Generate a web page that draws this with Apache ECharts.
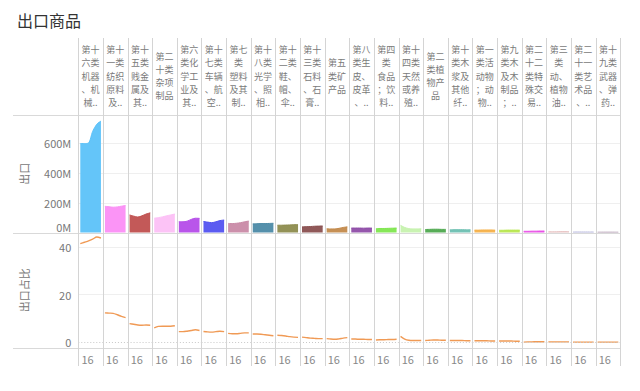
<!DOCTYPE html>
<html><head><meta charset="utf-8">
<script src="https://cdn.jsdelivr.net/npm/echarts@6/dist/echarts.min.js"></script>
<style>html,body{margin:0;padding:0;background:#fff}#c{width:640px;height:391px}</style>
</head><body><div id="c"></div>
<script>
const categories = [
  '第十\n六类\n机器\n、机\n械..', '第十\n一类\n纺织\n原料\n及..', '第十\n五类\n贱金\n属及\n其..', '第二\n十类\n杂项\n制品',
  '第六\n类化\n学工\n业及\n其..', '第十\n七类\n车辆\n、航\n空..', '第七\n类\n塑料\n及其\n制..', '第十\n八类\n光学\n、照\n相..',
  '第十\n二类\n鞋、\n帽、\n伞..', '第十\n三类\n石料\n、石\n膏..', '第五\n类矿\n产品', '第八\n类生\n皮、\n皮革\n、..',
  '第四\n类\n食品\n；饮\n料..', '第十\n四类\n天然\n或养\n殖..', '第二\n类植\n物产\n品', '第十\n类木\n浆及\n其他\n纤..',
  '第一\n类活\n动物\n；动\n物..', '第九\n类木\n及木\n制品\n；..', '第二\n十二\n类特\n殊交\n易..', '第三\n类\n动、\n植物\n油..',
  '第二\n十一\n类艺\n术品\n、..', '第十\n九类\n武器\n、弹\n药..'
];
const colors = ['#5cc2f9','#fb8ef5','#c0504f','#fcc0f6','#b54ce9','#5252f0','#c98aa6','#4c8aa6','#8d8c4e','#8a5050','#c38a4c','#8f4ea8',
  '#7fe64f','#c6f2ae','#4ea84e','#6ec0b2','#f5b14a','#b8e650','#e84ee6','#e8c4c4','#c6c6e4','#c8b8c8'];
const exportVals = [
  [598,598,602,680,728,749],[176,173,170,172,177,181],[118,110,104,112,124,132],[96,100,105,112,118,124],
  [73,72,76,88,96,95],[74,70,66,72,80,84],[61,60,62,66,72,77],[58,59,60,60,61,62],
  [49,49,50,51,52,53],[38,39,40,42,43,44],[25,24,24,28,34,38],[30,30,30,29,30,30],
  [26,27,27,28,29,30],[48,34,26,24,24,25],[20,21,22,22,21,21],[18,19,19,19,18,18],
  [16,16,17,17,17,16],[15,15,16,16,16,16],[8,8,9,9,10,10],[5,5,5,6,6,6],[4,4,4,4,4,4],[3,3,3,3,3,3]
];
const shareVals = [
  [41.4,42.0,42.6,43.3,44.2,43.8],[12.4,12.3,12.2,11.6,10.9,10.4],[7.9,7.6,7.3,7.2,7.3,7.2],[6.1,6.7,6.8,6.8,6.8,7.0],
  [4.5,4.5,4.7,5.0,5.3,5.0],[4.6,4.4,4.3,4.5,4.7,4.5],[3.8,3.6,3.6,3.8,4.0,4.0],[3.5,3.5,3.4,3.2,3.0,2.8],
  [3.0,2.9,2.7,2.4,2.2,2.1],[2.2,2.0,1.8,1.7,1.6,1.6],[1.6,1.4,1.3,1.5,1.8,2.0],[1.4,1.4,1.3,1.3,1.2,1.2],
  [1.0,1.1,1.1,1.2,1.2,1.3],[2.5,1.4,0.9,0.8,0.8,0.8],[0.8,0.9,1.0,1.0,0.9,0.9],[0.8,0.8,0.8,0.8,0.7,0.7],
  [0.7,0.7,0.7,0.7,0.6,0.6],[0.6,0.6,0.6,0.6,0.5,0.5],[0.1,0.2,0.2,0.3,0.3,0.3],[0.2,0.2,0.2,0.2,0.2,0.2],
  [0.1,0.1,0.1,0.1,0.1,0.1],[0.1,0.1,0.1,0.1,0.1,0.1]
];
const xTickLabels = ['16'];
const yTicksTop = [0,200,400,600];
const yTicksBottom = [0,20,40];
const yNameTop = '出口';
const yNameBottom = '出口占比';
const titleText = '出口商品';

const FONT = '"Noto Sans CJK SC","Noto Sans",sans-serif';
const X0 = 78.3, W = 24.636, N = categories.length;
const TOP1 = 115, BOT1 = 232.5, BOT2 = 348;
const grids = [], xAxes = [], yAxes = [], series = [];
for (let i = 0; i < N; i++) {
  const left = X0 + i * W;
  grids.push({left: left, width: W, top: TOP1, height: BOT1 - TOP1});
  xAxes.push({type: 'value', gridIndex: 2*i, min: -0.48, max: 5.48, position: 'top',
    axisLine: {show: false}, axisTick: {show: false}, axisLabel: {show: false}, splitLine: {show: false},
    name: categories[i], nameLocation: 'middle', nameGap: 39,
    nameTextStyle: {color: '#7a7a7a', fontSize: 9, lineHeight: 13.2, fontFamily: FONT, verticalAlign: 'middle', align: 'center'}});
  yAxes.push({type: 'value', gridIndex: 2*i, min: 0, max: 790,
    axisLine: {show: false}, axisTick: {show: false, customValues: yTicksTop.slice(1)},
    axisLabel: {show: i === 0, customValues: yTicksTop, formatter: v => v + 'M', color: '#777', fontSize: 11, margin: 7, fontFamily: FONT, verticalAlignMinLabel: 'bottom'},
    splitLine: {show: true, lineStyle: {color: '#efefef', width: 1}},
    name: i === 0 ? yNameTop : '', nameLocation: 'middle', nameGap: 49,
    nameTextStyle: {color: '#777', fontSize: 11, fontFamily: FONT}});
  series.push({type: 'line', xAxisIndex: 2*i, yAxisIndex: 2*i, symbol: 'none', smooth: 0.3,
    data: exportVals[i].map((v, k) => [k, v]), color: colors[i],
    lineStyle: {color: colors[i], width: 1}, areaStyle: {color: colors[i], opacity: 0.95}, silent: true});
  grids.push({left: left, width: W, top: BOT1, height: BOT2 - BOT1});
  xAxes.push({type: 'value', gridIndex: 2*i+1, min: -0.48, max: 5.48, position: 'bottom',
    axisLine: {show: false, onZero: false}, axisTick: {show: false}, splitLine: {show: false},
    axisLabel: {show: true, customValues: [1.75], formatter: () => xTickLabels[0], color: '#888', fontSize: 11, margin: 5, fontFamily: FONT}});
  yAxes.push({type: 'value', gridIndex: 2*i+1, min: -2.35, max: 46.1,
    axisLine: {show: false}, axisTick: {show: false, customValues: yTicksBottom.slice(1)},
    axisLabel: {show: i === 0, customValues: yTicksBottom, color: '#777', fontSize: 11, margin: 7, fontFamily: FONT},
    splitLine: {show: true, lineStyle: {color: '#efefef', width: 1}},
    name: i === 0 ? yNameBottom : '', nameLocation: 'middle', nameGap: 49,
    nameTextStyle: {color: '#777', fontSize: 11, fontFamily: FONT}});
  series.push({type: 'line', xAxisIndex: 2*i+1, yAxisIndex: 2*i+1, symbol: 'none', smooth: 0.3,
    data: shareVals[i].map((v, k) => [k, v]), color: '#f0a060',
    lineStyle: {color: '#f09a55', width: 1.4}, silent: true,
    markLine: {silent: true, symbol: 'none', label: {show: false},
      lineStyle: {color: '#c8c8c8', type: [1, 2], width: 1}, data: [{yAxis: 0}]}});
}
const graphics = [];
[TOP1, BOT1, BOT2].forEach(y => graphics.push({type: 'line', silent: true,
  shape: {x1: 13, y1: Math.round(y) + 0.5, x2: X0 + N * W, y2: Math.round(y) + 0.5},
  style: {stroke: '#d9d9d9', lineWidth: 1}, z: 10}));
for (let i = 0; i <= N; i++) {
  const x = Math.round(X0 + i * W) + 0.5;
  graphics.push({type: 'line', silent: true, shape: {x1: x, y1: 38, x2: x, y2: 366},
    style: {stroke: '#d4d4d4', lineWidth: 1}, z: 10});
}
const chart = echarts.init(document.getElementById('c'), null, {renderer: 'svg'});
chart.setOption({
  animation: false,
  backgroundColor: '#fff',
  title: {text: titleText, left: 12, top: 7, textStyle: {fontSize: 16, fontWeight: 'normal', color: '#333', fontFamily: FONT}},
  grid: grids, xAxis: xAxes, yAxis: yAxes, series: series, graphic: graphics
});
</script></body></html>
